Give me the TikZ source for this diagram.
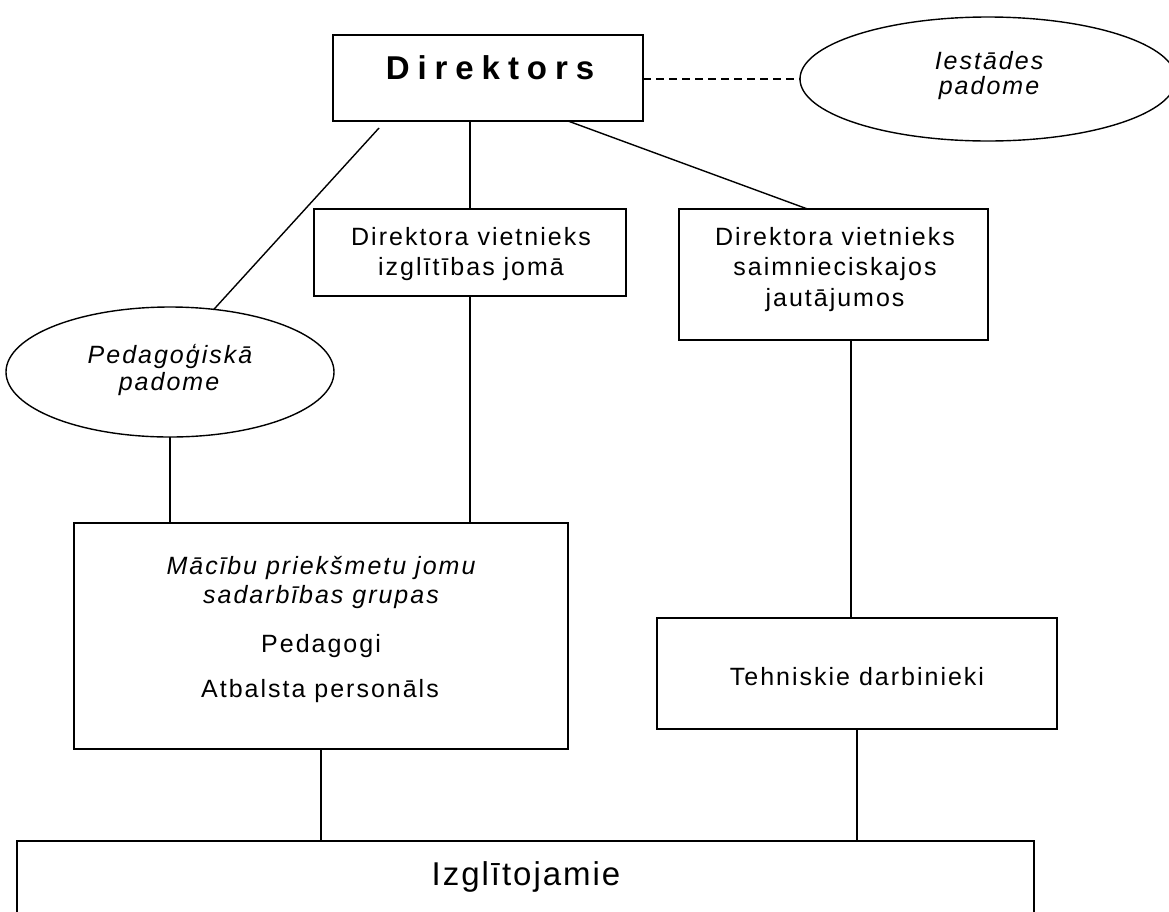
\documentclass[tikz,border=0pt]{standalone}
\usepackage{fontspec}
\setmainfont{Liberation Sans}
\newfontfamily\fdirfam[LetterSpace=24]{Liberation Sans}
\newfontfamily\fbodyfam[LetterSpace=8]{Liberation Sans}
\newfontfamily\fizgfam[LetterSpace=6]{Liberation Sans}
\newcommand\fdirx{\fdirfam\bfseries\fontsize{33}{40}\selectfont}
\newcommand\fbodyx{\fbodyfam\fontsize{25}{28}\selectfont}
\newcommand\fitx{\fbodyfam\itshape\fontsize{25}{28}\selectfont}
\newcommand\fizgx{\fizgfam\fontsize{33}{40}\selectfont}
\usetikzlibrary{shapes.geometric,calc}
\begin{document}
\begin{tikzpicture}[x=1pt,y=1pt,
  box/.style={draw,line width=1.8pt,rectangle,inner sep=0pt,outer sep=0pt,anchor=north west},
  oval/.style={draw,line width=1.4pt,ellipse,inner sep=0pt,outer sep=0pt},
  conn/.style={line width=1.4pt},
  dashconn/.style={line width=1.4pt,dash pattern=on 8pt off 5pt},
  txt/.style={anchor=base,inner sep=0pt}]
\path[use as bounding box] (0,0) rectangle (1169,-911);
\clip (0,0) rectangle (1169,-911);
\fill[white] (0,0) rectangle (1169,-911);

% Director
\node[box,minimum width=310,minimum height=86] (dir) at (333,-35) {};
\node[txt] (dirt) at (490,-79) {\fdirx Direktors};

% Iestades padome
\node[oval,minimum width=376,minimum height=124] (iest) at (988,-79) {};
\node[txt] (iest1) at (989,-69) {\fitx Iestādes};
\node[txt] (iest2) at (989,-94) {\fitx padome};

% Pedagogiska padome
\node[oval,minimum width=328,minimum height=130] (ped) at (170,-372) {};
\node[txt] (ped1) at (170,-363) {\fitx Pedagoģiskā};
\node[txt] (ped2) at (169,-390) {\fitx padome};

% Vietnieki
\node[box,minimum width=312,minimum height=87] (v1) at (314,-209) {};
\node[txt] (v1a) at (471,-245) {\fbodyx Direktora vietnieks};
\node[txt] (v1b) at (471,-275) {\fbodyx izglītības jomā};

\node[box,minimum width=309,minimum height=131] (v2) at (679,-209) {};
\node[txt] (v2a) at (835,-245) {\fbodyx Direktora vietnieks};
\node[txt] (v2b) at (835,-275) {\fbodyx saimnieciskajos};
\node[txt] (v2c) at (835,-306) {\fbodyx jautājumos};

% Macibu
\node[box,minimum width=494,minimum height=226] (mac) at (74,-523) {};
\node[txt] (mac1) at (321,-574) {\fitx Mācību priekšmetu jomu};
\node[txt] (mac2) at (321,-603) {\fitx sadarbības grupas};
\node[txt] (mac3) at (321,-652) {\fbodyx Pedagogi};
\node[txt] (mac4) at (320,-697) {\fbodyx Atbalsta personāls};

% Tehniskie
\node[box,minimum width=400,minimum height=111] (teh) at (657,-618) {};
\node[txt] (teht) at (857,-685) {\fbodyx Tehniskie darbinieki};

% Izglitojamie
\node[box,minimum width=1017,minimum height=110] (izg) at (17,-841) {};
\node[txt] (izgt) at (526,-885) {\fizgx Izglītojamie};

% connectors
\coordinate (d1) at (379,-128);
\draw[conn] (d1) -- (ped.55);
\draw[conn] (v1.north |- dir.south) -- (v1.north);
\draw[conn] ([xshift=80pt]dir.south) -- ([xshift=-26pt]v2.north);
\draw[dashconn] (iest.west -| dir.east) -- (iest.west);
\draw[conn] (ped.south) -- (ped.south |- mac.north);
\draw[conn] (v1.south) -- (v1.south |- mac.north);
\draw[conn] ([xshift=-6pt]teh.north |- v2.south) -- ([xshift=-6pt]teh.north);
\draw[conn] (mac.south) -- (mac.south |- izg.north);
\draw[conn] (teh.south) -- (teh.south |- izg.north);
\end{tikzpicture}
\end{document}
